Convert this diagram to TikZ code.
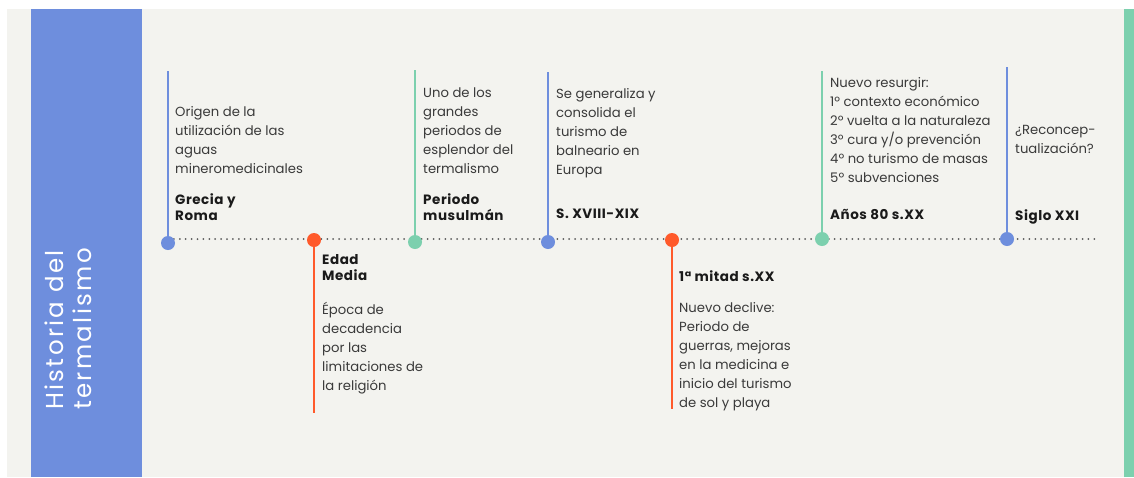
\documentclass[tikz,border=0pt]{standalone}
\usepackage{fontspec}
\setmainfont{Poppins}
\newfontfamily\headfont{Poppins}[LetterSpace=4]
\newfontfamily\titlefont{Poppins}[LetterSpace=9.5]
\definecolor{bgc}{HTML}{F3F3EF}
\definecolor{cblue}{HTML}{6E8EDD}
\definecolor{corange}{HTML}{FF5A2B}
\definecolor{cgreen}{HTML}{7CD0AE}
\definecolor{ctext}{HTML}{3A3A3A}
\definecolor{chead}{HTML}{1A1A1A}
\definecolor{cdots}{HTML}{5A5A5A}
\pgfdeclarelayer{back}
\pgfdeclarelayer{lines}
\pgfsetlayers{back,lines,main}
\tikzset{
  dot/.style={circle,inner sep=0pt,minimum size=14pt},
  vline/.style={line width=2.3pt},
  body/.style={anchor=north west,inner sep=0pt,align=left,text=ctext,font=\fontsize{13.2}{19}\selectfont},
  head/.style={anchor=north west,inner sep=0pt,align=left,text=chead,font=\headfont\fontsize{13.5}{16}\selectfont\bfseries},
  axis/.style={cdots,line width=2pt,line cap=round,dash pattern=on 0pt off 5.9pt}
}
\begin{document}
\begin{tikzpicture}[x=1pt,y=-1pt]
\useasboundingbox (0,0) rectangle (1134,477);
\begin{pgfonlayer}{back}
\fill[white] (0,0) rectangle (1134,477);
\fill[bgc] (7,9) rectangle (1134,477);
\fill[cblue] (31,9) rectangle (142,477);
\fill[cgreen] (1124,9) rectangle (1134,477);
\end{pgfonlayer}
\node[rotate=90,align=left,text=white,font=\titlefont\fontsize{24.5}{28}\selectfont] (title) at (68,329) {Historia del\\termalismo};
% dots
\node[dot,fill=cblue] (d1) at (168,243) {};
\node[dot,fill=corange] (d2) at (314,240) {};
\node[dot,fill=cgreen] (d3) at (415,242) {};
\node[dot,fill=cblue] (d4) at (548,242) {};
\node[dot,fill=corange] (d5) at (672,240) {};
\node[dot,fill=cgreen] (d6) at (822,239) {};
\node[dot,fill=cblue] (d7) at (1007,239) {};
\coordinate (t1) at (168,71);
\coordinate (t2) at (314,413);
\coordinate (t3) at (415,70);
\coordinate (t4) at (548,72);
\coordinate (t5) at (672,409);
\coordinate (t6) at (822,71);
\coordinate (t7) at (1007,67);
\coordinate (a0) at (168,239);
\coordinate (a1) at (1100,239);
\begin{pgfonlayer}{lines}
\draw[axis] (a0) -- (a1);
\draw[vline,cblue] (d1.center) -- (t1);
\draw[vline,corange] (d2.center) -- (t2);
\draw[vline,cgreen] (d3.center) -- (t3);
\draw[vline,cblue] (d4.center) -- (t4);
\draw[vline,corange] (d5.center) -- (t5);
\draw[vline,cgreen] (d6.center) -- (t6);
\draw[vline,cblue] (d7.center) -- (t7);
\end{pgfonlayer}
% texts
\node[body] (b1) at (175,106) {Origen de la\\utilización de las\\aguas\\mineromedicinales};
\node[head] (h1) at (175,193) {Grecia y\\Roma};
\node[head] (h2) at (322,254) {Edad\\Media};
\node[body] (b2) at (322,302) {Época de\\decadencia\\por las\\limitaciones de\\la religión};
\node[body] (b3) at (423,88) {Uno de los\\grandes\\periodos de\\esplendor del\\termalismo};
\node[head] (h3) at (423,193) {Periodo\\musulmán};
\node[body] (b4) at (556,88) {Se generaliza y\\consolida el\\turismo de\\balneario en\\Europa};
\node[head] (h4) at (556,209) {S. XVIII-XIX};
\node[head] (h5) at (679,270) {1ª mitad s.XX};
\node[body] (b5) at (679,302) {Nuevo declive:\\Periodo de\\guerras, mejoras\\en la medicina e\\inicio del turismo\\de sol y playa};
\node[body] (b6) at (830,77) {Nuevo resurgir:\\1º contexto económico\\2º vuelta a la naturaleza\\3º cura y/o prevención\\4º no turismo de masas\\5º subvenciones};
\node[head] (h6) at (830,209) {Años 80 s.XX};
\node[body] (b7) at (1015,125) {¿Reconcep-\\tualización?};
\node[head] (h7) at (1015,209) {Siglo XXI};
\end{tikzpicture}
\end{document}
